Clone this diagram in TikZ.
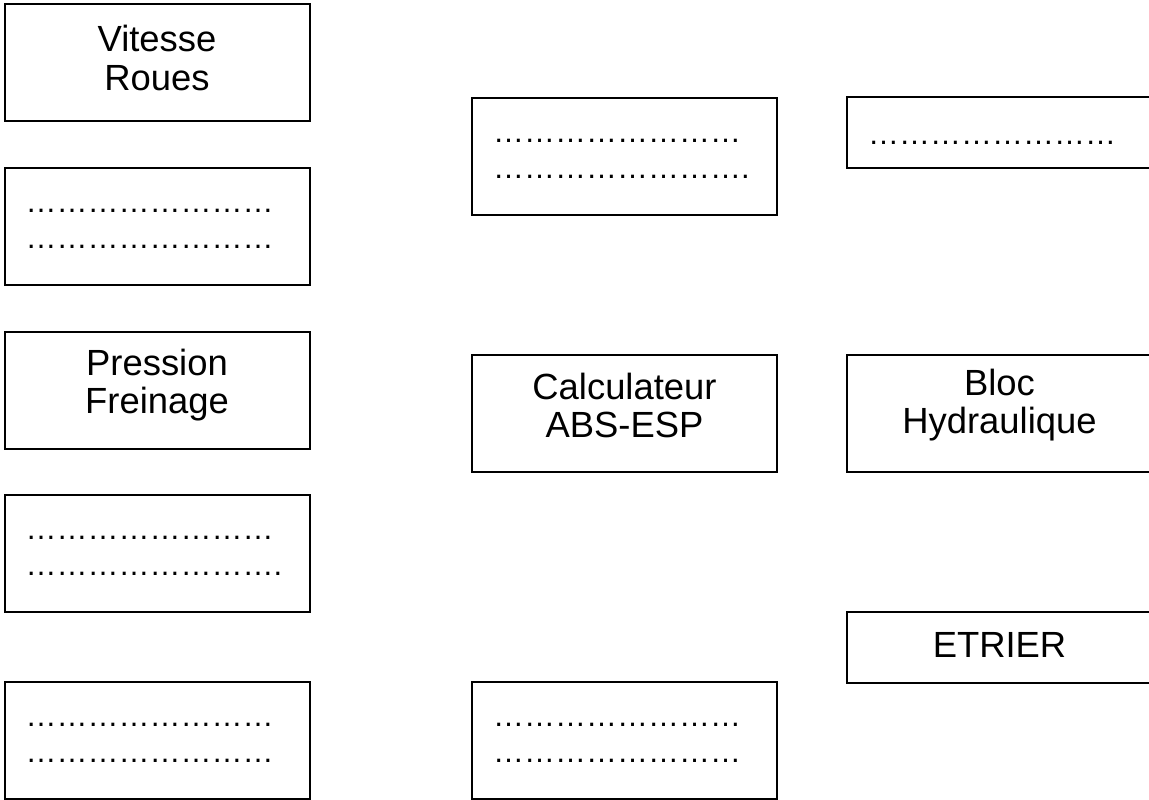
\documentclass[tikz,border=0pt]{standalone}
\usepackage{fontspec}
\setmainfont{Liberation Sans}
\usetikzlibrary{positioning}

\newcommand{\pts}{……………………}

\begin{document}
\begin{tikzpicture}[x=0.5pt,y=-0.5pt,
		box/.style={draw,line width=1pt,minimum width=152.5pt,minimum height=58.5pt,
			align=center,text height=31pt,text depth=8.5pt,font=\fontsize{18.2}{19}\selectfont},
		lowbox/.style={box,minimum height=35.5pt},
		dotbox/.style={box,align=left,text width=131.5pt,inner xsep=10.5pt,
			text height=1pt,text depth=15pt,font=\fontsize{15.5}{18}\selectfont}]
			\clip (0,0) rectangle (1149,799);
			% entrees
			\node[box,text height=32pt,text depth=3.8pt] at (157,62.5) (vit) {Vitesse\\[0.8pt]Roues};
			\node[dotbox] at (157,226.5) (e2) {\pts\\\pts};
			\node[box] at (157,390.5) (pf) {Pression\\Freinage};
			\node[dotbox] at (157,553.5) (e4) {\pts\\\pts.};
			\node[dotbox] at (157,740.5) (e5) {\pts\\\pts};
			% calculateur
			\node[dotbox] at (624.5,156) (c1) {\pts\\\pts.};
			\node[box,text depth=7.5pt] at (624.5,413.5) (calc) {Calculateur\\ABS-ESP};
			\node[dotbox] at (624.5,740.5) (c3) {\pts\\\pts};
			% sorties
			\node[dotbox,minimum height=35.5pt,text height=12.5pt,text depth=1pt] at (999.5,132.5) (s1) {\pts};
			\node[box,text depth=11.5pt] at (999.5,413.5) (bloc) {Bloc\\Hydraulique};
			\node[lowbox,text height=13pt,text depth=3.5pt] at (999.5,647.5) (etr) {ETRIER};
		\end{tikzpicture}
\end{document}
